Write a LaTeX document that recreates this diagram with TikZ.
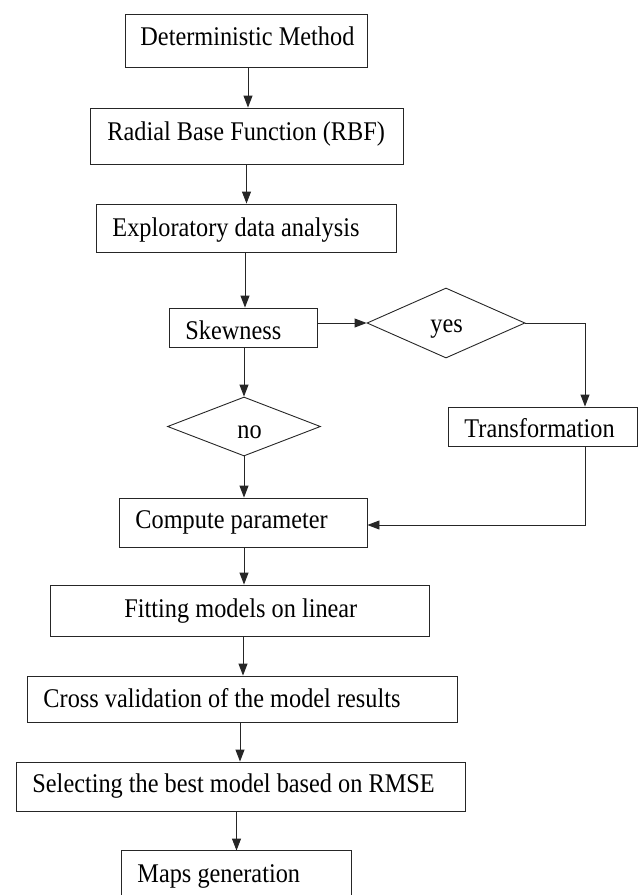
\documentclass[tikz,border=0pt]{standalone}
\usepackage{fontspec}
\setmainfont{Liberation Serif}
\usetikzlibrary{shapes.geometric,arrows.meta}
\newcommand{\narrowtxt}[1]{\scalebox{0.9}[1]{#1}}
\begin{document}
\begin{tikzpicture}[x=1pt,y=-1pt,
  line width=0.9pt,
  box/.style={draw=black!85, rectangle, inner sep=0pt},
  dia/.style={draw=black!85, diamond, inner sep=0pt},
  lbl/.style={inner sep=0pt, anchor=base west, font=\fontsize{27}{32}\selectfont},
  arr/.style={draw=black!85, -{Triangle[length=12pt,width=9pt]}},
  ln/.style={draw=black!85}]
\useasboundingbox (0,0) rectangle (638,895);
% boxes
\node[box, minimum width=242, minimum height=53] (det) at (246,40.5) {};
\node[box, minimum width=313, minimum height=56] (rbf) at (246.5,136) {};
\node[box, minimum width=300, minimum height=48] (eda) at (246,228) {};
\node[box, minimum width=148, minimum height=39] (skew) at (243,327.5) {};
\node[dia, minimum width=158, minimum height=70] (yes) at (446,323) {};
\node[dia, minimum width=153, minimum height=59] (no) at (244,426.5) {};
\node[box, minimum width=189, minimum height=39] (trans) at (542.5,426.5) {};
\node[box, minimum width=248, minimum height=49] (comp) at (243,522.5) {};
\node[box, minimum width=379, minimum height=51] (fit) at (239.5,610.5) {};
\node[box, minimum width=430, minimum height=46] (cross) at (242,699) {};
\node[box, minimum width=449, minimum height=49] (sel) at (240.5,786.5) {};
\node[rectangle, inner sep=0pt, minimum width=229, minimum height=49] (maps) at (236.5,875.5) {};
\draw[ln] (maps.south west) -- (maps.north west) -- (maps.north east) -- (maps.south east);
% labels
\node[lbl] (tdet) at (140,45) {\narrowtxt{Deterministic Method}};
\node[lbl] (trbf) at (107,140) {\narrowtxt{Radial Base Function (RBF)}};
\node[lbl] (teda) at (112,236) {\narrowtxt{Exploratory data analysis}};
\node[lbl] (tskew) at (185,339) {\narrowtxt{Skewness}};
\node[lbl] (tyes) at (430,332) {\narrowtxt{yes}};
\node[lbl] (tno) at (237,438) {\narrowtxt{no}};
\node[lbl] (ttrans) at (464,437) {\narrowtxt{Transformation}};
\node[lbl] (tcomp) at (135,528) {\narrowtxt{Compute parameter}};
\node[lbl] (tfit) at (124,617) {\narrowtxt{Fitting models on linear}};
\node[lbl] (tcross) at (43,707) {\narrowtxt{Cross validation of the model results}};
\node[lbl] (tsel) at (32,792) {\narrowtxt{Selecting the best model based on RMSE}};
\node[lbl] (tmaps) at (137,882) {\narrowtxt{Maps generation}};
% connectors
\draw[arr] ([xshift=2pt]det.south) -- ([xshift=2pt]det.south |- rbf.north);
\draw[arr] (rbf.south) -- (rbf.south |- eda.north);
\draw[arr] ([xshift=-1pt]eda.south) -- ([xshift=-1pt]eda.south |- skew.north);
\draw[arr] (skew.east |- yes.west) -- (yes.west);
\draw[arr] (no.north |- skew.south) -- (no.north);
\draw[arr] (no.south) -- (no.south |- comp.north);
\draw[arr] (yes.east) -| ([xshift=42.5pt]trans.north);
\draw[arr] ([xshift=42.5pt]trans.south) |- ([yshift=-2.5pt]comp.east);
\draw[arr] ([xshift=1pt]comp.south) -- ([xshift=1pt]comp.south |- fit.north);
\draw[arr] ([xshift=3.5pt]fit.south) -- ([xshift=3.5pt]fit.south |- cross.north);
\draw[arr] ([xshift=-2pt]cross.south) -- ([xshift=-2pt]cross.south |- sel.north);
\draw[arr] (maps.north |- sel.south) -- (maps.north);
\end{tikzpicture}
\end{document}
